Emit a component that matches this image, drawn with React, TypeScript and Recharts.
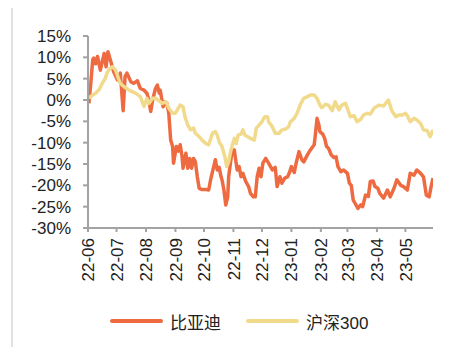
import React from 'react';
import { LineChart, Line, XAxis, YAxis, Legend } from 'recharts';

// x values are days counted from 2022-06-01
const monthTicks = [0, 30, 61, 92, 122, 153, 183, 214, 245, 273, 304, 334];
const monthLabels = ['22-06', '22-07', '22-08', '22-09', '22-10', '22-11', '22-12', '23-01', '23-02', '23-03', '23-04', '23-05'];
const yTicks = [-30, -25, -20, -15, -10, -5, 0, 5, 10, 15];

const seriesNames = ['比亚迪', '沪深300'];
const seriesColors = ['#EE6B42', '#F1DA8B'];

const bydDays = [1, 3, 5, 6, 8, 10, 13, 17, 19, 21, 24, 27, 31, 34, 37, 39, 41, 45, 48, 52, 55, 59, 62, 64, 66, 68, 71, 73, 75, 76, 79, 81, 83, 85, 87, 89, 90, 93, 95, 97, 99, 100, 103, 105, 107, 109, 111, 113, 115, 117, 120, 124, 127, 129, 131, 134, 136, 138, 140, 141, 143, 145, 147, 148, 151, 154, 155, 157, 159, 161, 163, 166, 169, 171, 174, 176, 178, 180, 182, 184, 187, 190, 194, 197, 199, 202, 204, 207, 210, 212, 214, 217, 219, 222, 225, 227, 231, 234, 238, 239, 241, 243, 244, 247, 249, 251, 253, 256, 259, 261, 263, 266, 269, 273, 275, 277, 279, 281, 284, 287, 289, 292, 295, 297, 300, 302, 305, 307, 311, 315, 318, 322, 325, 329, 332, 336, 339, 343, 346, 350, 353, 356, 359, 361, 363];
const bydValues = [-0.8, 4, 9.5, 9.8, 8.5, 10.2, 7, 10.9, 7.8, 11.3, 9, 6.6, 4.7, 6.3, -2.5, 5.5, 6.3, 4.3, 3.9, 4.5, 2.7, 2.3, 1.6, 0, -2.7, 0, 2.7, 3.5, 1.6, 2.3, -1.6, -0.4, -0.8, -3.1, -9.4, -10.9, -14.8, -10.9, -12, -10.5, -13.3, -16, -12.5, -16, -13.7, -16, -13.7, -14.5, -18, -20.7, -21, -21, -21.1, -18.7, -16.8, -14, -16.4, -15.8, -18, -18.7, -21.1, -24.6, -22.7, -18, -12.9, -11.7, -13.5, -16.4, -15.6, -18, -17.2, -19.1, -20.3, -21.9, -22.7, -22.7, -18, -16, -18, -14.8, -13.7, -14.8, -16.4, -15.8, -20.3, -18, -19.5, -18.3, -18, -17, -15.6, -17, -14.8, -12.1, -14, -14.5, -12.8, -11.7, -10.5, -8.6, -4.3, -5.9, -7.4, -8, -9, -10.9, -11.3, -12.9, -13.5, -13.3, -15.6, -16.8, -16.4, -17.2, -19.5, -20, -23.4, -24.2, -25.4, -24.6, -25, -22.3, -22.6, -19.1, -19, -20.3, -20.7, -21.9, -23, -21.1, -22.7, -20.7, -18.7, -20, -20.3, -21.1, -17.2, -17.6, -16.4, -17.2, -18, -22.3, -22.7, -20.3, -18.3];

const hsDays = [1, 5, 8, 12, 15, 18, 20, 23, 26, 29, 32, 34, 38, 43, 50, 55, 59, 62, 64, 68, 71, 75, 78, 82, 85, 89, 92, 94, 97, 100, 102, 105, 108, 111, 113, 117, 120, 124, 127, 131, 134, 136, 138, 141, 144, 146, 148, 150, 152, 154, 156, 158, 161, 163, 165, 168, 171, 175, 177, 180, 183, 186, 189, 190, 194, 197, 201, 204, 208, 211, 213, 217, 220, 224, 227, 231, 234, 238, 241, 244, 246, 250, 253, 257, 260, 264, 267, 271, 276, 280, 283, 287, 290, 294, 297, 301, 306, 311, 316, 320, 324, 327, 331, 334, 336, 339, 343, 346, 350, 353, 357, 360, 363];
const hsValues = [0.4, 1.2, 1.6, 2.5, 3.9, 5, 6.3, 7.4, 7.8, 7, 5, 3.9, 3.1, 2.3, 1.6, 0.8, -1.5, 0.4, -0.8, 0.4, 0.4, -0.2, -0.8, -0.4, -1.9, -3.1, -3.1, -2.3, -1.2, -1.6, -3.9, -5.9, -7, -6.6, -7.8, -8.6, -9.4, -10.2, -10.5, -7.8, -7.4, -8.2, -9.8, -10.9, -13.3, -15.6, -14.5, -12.1, -10.5, -9, -10.2, -8.2, -8, -7, -8.2, -8.6, -9, -9.4, -6.6, -5.9, -5.1, -3.9, -4, -5.1, -6.3, -7.8, -7.8, -7, -6.8, -6.3, -5.1, -4.3, -3.1, -0.8, 0.4, 0.8, 1.2, 1.2, 0.4, -1.2, -1.8, -1, -1.2, -2.5, -0.4, -2.3, -1.2, -0.8, -3.9, -3.7, -5.1, -4.5, -3.5, -3.1, -3.3, -1.9, -1.2, -1.4, 0, -2.7, -3.9, -3.5, -3.5, -3.1, -3.7, -5.1, -4.3, -4.7, -5.5, -7, -7.2, -8.6, -7];

const bydData = bydDays.map((d, i) => ({ d, v: bydValues[i] }));
const hsData = hsDays.map((d, i) => ({ d, v: hsValues[i] }));

const FONT = '"Liberation Sans", Arial, "Noto Sans CJK SC", sans-serif';
const AXIS = '#A3A3A3';

const XTick = (props: any) => {
  const { x, y, payload } = props;
  const idx = monthTicks.indexOf(payload.value);
  const label = idx >= 0 ? monthLabels[idx] : '';
  return (
    <text
      x={x}
      y={y}
      transform={`rotate(-90, ${x}, ${y})`}
      textAnchor="end"
      dy="0.36em"
      fontSize={17}
      fill="#222"
      fontFamily={FONT}
    >
      {label}
    </text>
  );
};

const LegendContent = () => (
  <div style={{ display: 'flex', alignItems: 'center', marginLeft: 102, fontFamily: FONT, fontSize: 17, color: '#222', height: 30 }}>
    {seriesNames.map((n, i) => (
      <div key={n} style={{ display: 'flex', alignItems: 'center', marginRight: i === 0 ? 25 : 0 }}>
        <div style={{ width: 53, height: 3.5, background: seriesColors[i], borderRadius: 2, marginRight: 7 }} />
        <span>{n}</span>
      </div>
    ))}
  </div>
);

export default function App() {
  return (
    <div style={{ position: 'relative', width: 457, height: 339 }}>
      <div style={{ position: 'absolute', left: 3, top: -8, width: 1.5, height: 347, background: '#E2E2E2' }} />
      <div style={{ position: 'absolute', left: 453, top: -8, width: 1.5, height: 347, background: '#E2E2E2' }} />
      <LineChart width={457} height={339} margin={{ top: 28, right: 32, left: 0, bottom: 11 }}>
        <XAxis
          type="number"
          dataKey="d"
          domain={[0, 363]}
          ticks={monthTicks}
          interval={0}
          tick={<XTick />}
          tickSize={4}
          tickMargin={6}
          height={78}
          axisLine={{ stroke: AXIS, strokeWidth: 2 }}
          tickLine={{ stroke: AXIS, strokeWidth: 2 }}
          allowDataOverflow
        />
        <YAxis
          type="number"
          domain={[-30, 15]}
          ticks={yTicks}
          interval={0}
          width={80}
          tickFormatter={(v: number) => `${v}%`}
          tick={{ fontSize: 17, fill: '#222', fontFamily: FONT }}
          tickSize={5}
          tickMargin={12}
          axisLine={{ stroke: AXIS, strokeWidth: 2 }}
          tickLine={{ stroke: AXIS, strokeWidth: 2 }}
        />
        <Legend verticalAlign="bottom" height={30} content={<LegendContent />} />
        <Line data={bydData} dataKey="v" name={seriesNames[0]} type="linear" stroke={seriesColors[0]} strokeWidth={3.5} strokeLinejoin="round" dot={false} isAnimationActive={false} />
        <Line data={hsData} dataKey="v" name={seriesNames[1]} type="linear" stroke={seriesColors[1]} strokeWidth={3.5} strokeLinejoin="round" dot={false} isAnimationActive={false} />
      </LineChart>
    </div>
  );
}
